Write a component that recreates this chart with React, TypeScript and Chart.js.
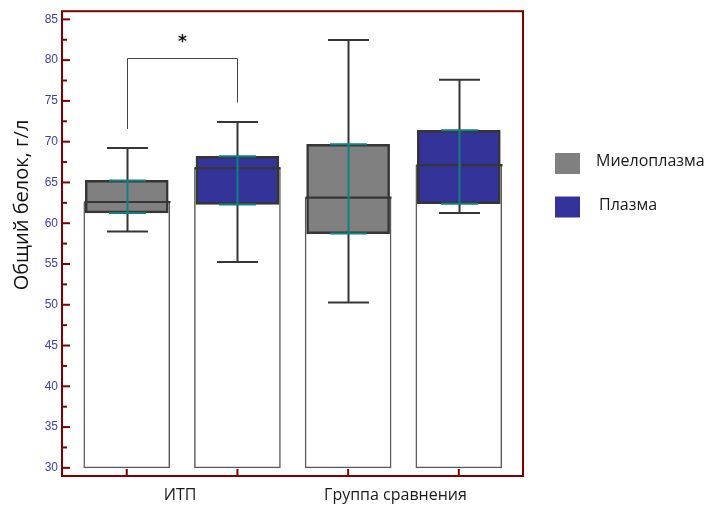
import React, { useEffect, useRef } from "react";
import { Chart, registerables } from "chart.js";

Chart.register(...registerables);

const categories = ["ИТП", "Группа сравнения"];
const seriesNames = ["Миелоплазма", "Плазма"];
const seriesColors = ["#808080", "#333399"];
const positions = [1, 2, 3, 4];
const boxSeries = [0, 1, 0, 1];
const means = [62.6, 66.75, 63.13, 67.12];
const q1 = [61.26, 62.3, 58.73, 62.4];
const q3 = [65.25, 68.2, 69.68, 71.39];
const medians = [62.6, 66.75, 63.13, 67.12];
const whiskerLow = [58.97, 55.24, 50.27, 61.26];
const whiskerHigh = [69.23, 72.4, 82.46, 77.58];
const yTicks = [30, 35, 40, 45, 50, 55, 60, 65, 70, 75, 80, 85];
const yMinorTicks = [32.5, 37.5, 42.5, 47.5, 52.5, 57.5, 62.5, 67.5, 72.5, 77.5, 82.5];
const bracket = { from: 1, to: 2, top: 80.3, leftEnd: 71.55, rightEnd: 74.8, label: "*" };
const yTitle = "Общий белок, г/л";

const FRAME = "#800000";
const DARK = "#363636";
const TEAL = "#128080";

const overlay = {
  id: "overlay",
  afterDatasetsDraw(chart: any) {
    const ctx = chart.ctx;
    const xs = chart.scales.x;
    const ys = chart.scales.y;
    const X = (v: number) => xs.getPixelForValue(v);
    const Y = (v: number) => ys.getPixelForValue(v);
    ctx.save();
    positions.forEach((p, i) => {
      const cx = Math.round(X(p)) + 0.5;
      ctx.strokeStyle = DARK;
      ctx.lineWidth = 2;
      ctx.beginPath();
      ctx.moveTo(cx, Y(whiskerHigh[i]));
      ctx.lineTo(cx, Y(q3[i]));
      ctx.moveTo(cx, Y(q1[i]));
      ctx.lineTo(cx, Y(whiskerLow[i]));
      ctx.stroke();
      ctx.beginPath();
      ctx.moveTo(cx - 20.5, Y(whiskerHigh[i]));
      ctx.lineTo(cx + 20.5, Y(whiskerHigh[i]));
      ctx.moveTo(cx - 20.5, Y(whiskerLow[i]));
      ctx.lineTo(cx + 20.5, Y(whiskerLow[i]));
      ctx.stroke();
      ctx.lineWidth = 2.2;
      ctx.beginPath();
      ctx.moveTo(cx - 43, Y(medians[i]));
      ctx.lineTo(cx + 43, Y(medians[i]));
      ctx.stroke();
      ctx.strokeStyle = TEAL;
      ctx.lineWidth = 2;
      ctx.beginPath();
      ctx.moveTo(cx, Y(q3[i]));
      ctx.lineTo(cx, Y(q1[i]));
      ctx.moveTo(cx - 18.5, Y(q3[i]));
      ctx.lineTo(cx + 18.5, Y(q3[i]));
      ctx.moveTo(cx - 18.5, Y(q1[i]));
      ctx.lineTo(cx + 18.5, Y(q1[i]));
      ctx.stroke();
    });
    ctx.strokeStyle = "#444";
    ctx.lineWidth = 1;
    const bl = Math.round(X(bracket.from)) + 0.5;
    const br = Math.round(X(bracket.to)) + 0.5;
    const bt = Math.round(Y(bracket.top)) + 0.5;
    ctx.beginPath();
    ctx.moveTo(bl, Y(bracket.leftEnd));
    ctx.lineTo(bl, bt);
    ctx.lineTo(br, bt);
    ctx.lineTo(br, Y(bracket.rightEnd));
    ctx.stroke();
    ctx.fillStyle = "#111";
    ctx.font = "bold 17px 'DejaVu Sans'";
    ctx.textAlign = "center";
    ctx.textBaseline = "middle";
    ctx.fillText(bracket.label, (bl + br) / 2, bt - 16);

    const a = chart.chartArea;
    ctx.strokeStyle = FRAME;
    ctx.lineWidth = 2;
    ctx.strokeRect(a.left, a.top, a.right - a.left, a.bottom - a.top);
    yTicks.forEach((v) => {
      const y = Y(v);
      ctx.beginPath();
      ctx.moveTo(a.left, y);
      ctx.lineTo(a.left + 8, y);
      ctx.stroke();
    });
    yMinorTicks.forEach((v) => {
      const y = Y(v);
      ctx.beginPath();
      ctx.moveTo(a.left, y);
      ctx.lineTo(a.left + 5, y);
      ctx.stroke();
    });
    positions.forEach((p) => {
      const x = X(p);
      ctx.beginPath();
      ctx.moveTo(x, a.bottom);
      ctx.lineTo(x, a.bottom - 7);
      ctx.stroke();
    });

    ctx.fillStyle = "#1a1a1a";
    ctx.font = "16px 'Open Sans'";
    ctx.textBaseline = "middle";
    ctx.textAlign = "center";
    ctx.fillText(categories[0], (X(1) + X(2)) / 2 - 2, 495);
    ctx.fillText(categories[1], (X(3) + X(4)) / 2 - 8, 495);

    ctx.save();
    ctx.translate(22, 205);
    ctx.rotate(-Math.PI / 2);
    ctx.font = "20px 'Open Sans'";
    ctx.fillStyle = "#111";
    ctx.textAlign = "center";
    ctx.textBaseline = "middle";
    ctx.fillText(yTitle, 0, 0);
    ctx.restore();

    const legendY = [163.5, 207];
    const legendTextX = [596, 599];
    seriesNames.forEach((name, i) => {
      ctx.fillStyle = seriesColors[i];
      ctx.fillRect(555, legendY[i] - 10.5, 25, 21);
      ctx.fillStyle = "#1a1a1a";
      ctx.font = "16px 'Open Sans'";
      ctx.textAlign = "left";
      ctx.textBaseline = "middle";
      ctx.fillText(name, legendTextX[i], legendY[i] - 2);
    });
    ctx.restore();
  },
};

export default function App() {
  const ref = useRef<HTMLCanvasElement>(null);
  useEffect(() => {
    const canvas = ref.current!;
    const chart = new Chart(canvas, {
      type: "bar",
      data: {
        datasets: [
          {
            label: "mean",
            data: positions.map((p, i) => ({ x: p, y: [30, means[i]] })) as any,
            backgroundColor: "#ffffff",
            borderColor: "#5a5a5a",
            borderWidth: 1.5,
            borderSkipped: false,
            barThickness: 86,
            grouped: false,
            order: 2,
          } as any,
          {
            label: "box",
            data: positions.map((p, i) => ({ x: p, y: [q1[i], q3[i]] })) as any,
            backgroundColor: boxSeries.map((s) => seriesColors[s]),
            borderColor: "#353535",
            borderWidth: 2.5,
            borderSkipped: false,
            barThickness: 83,
            grouped: false,
            order: 1,
          } as any,
        ],
      },
      options: {
        responsive: false,
        animation: false,
        layout: { padding: { left: 0, top: 10, right: 189, bottom: 0 } },
        plugins: { legend: { display: false }, tooltip: { enabled: false } },
        scales: {
          x: {
            type: "linear",
            min: 0.415,
            max: 4.58,
            offset: false,
            grid: { display: false, offset: false },
            border: { display: false },
            ticks: { display: false },
            afterFit: (s: any) => {
              s.height = 33;
            },
          },
          y: {
            type: "linear",
            min: 29,
            max: 86,
            grid: { display: false, drawTicks: false },
            border: { display: false },
            afterBuildTicks: (s: any) => {
              s.ticks = yTicks.map((v) => ({ value: v }));
            },
            ticks: {
              color: "#3f3fa8",
              padding: 4,
              font: { family: "'Liberation Sans'", size: 12 },
            },
            afterFit: (s: any) => {
              s.width = 62;
            },
          },
        },
      },
      plugins: [overlay],
    });
    return () => chart.destroy();
  }, []);
  return (
    <div style={{ position: "fixed", left: 0, top: 0, width: 712, height: 509, background: "#fff" }}>
      <canvas ref={ref} width={712} height={509} style={{ display: "block" }} />
    </div>
  );
}
